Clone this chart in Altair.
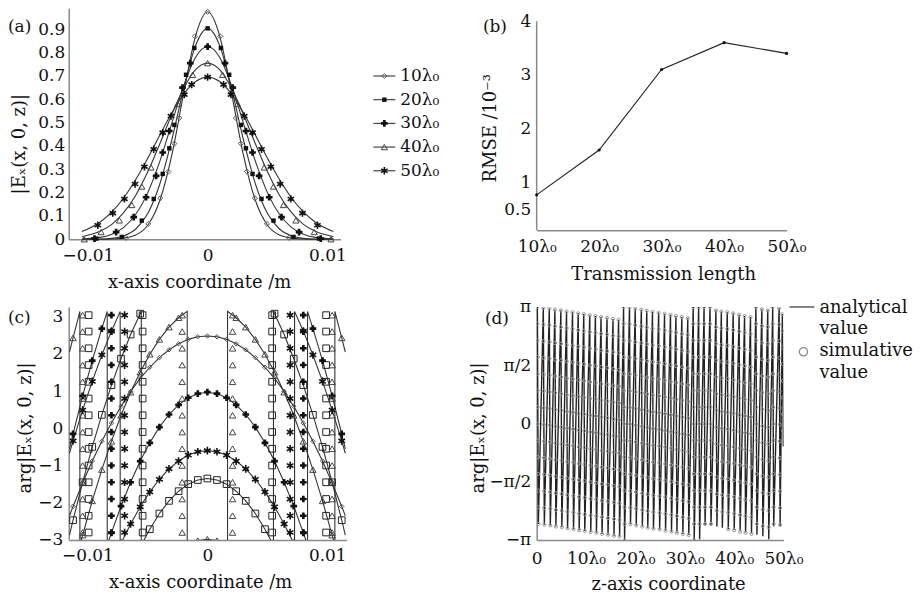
import math
import altair as alt
import pandas as pd

FONT = "DejaVu Serif"
PI = math.pi
LAM = "λ₀"
SERIES = ["10", "20", "30", "40", "50"]

# ---------------- (a) |Ex(x,0,z)| profiles (right half, picture is symmetric)
a_x = [0, 0.001, 0.002, 0.003, 0.004, 0.005, 0.006, 0.007, 0.008, 0.009, 0.0105]
a_10 = [0.975, 0.873, 0.625, 0.359, 0.165, 0.060, 0.018, 0.005, 0.001, 0.0, 0.0]
a_20 = [0.904, 0.831, 0.646, 0.425, 0.236, 0.110, 0.044, 0.015, 0.004, 0.001, 0.0]
a_30 = [0.826, 0.780, 0.658, 0.496, 0.333, 0.200, 0.107, 0.051, 0.022, 0.008, 0.002]
a_40 = [0.755, 0.727, 0.647, 0.534, 0.408, 0.289, 0.189, 0.115, 0.064, 0.034, 0.011]
a_50 = [0.695, 0.676, 0.622, 0.541, 0.446, 0.347, 0.256, 0.178, 0.117, 0.073, 0.033]
a_mx_10 = [0, 0.00106, 0.00236, 0.00278, 0.00328, 0.00395, 0.00495, 0.0068]
a_mv_10 = [0.975, 0.87, 0.52, 0.41, 0.29, 0.176, 0.066, 0.006]
a_mx_20 = [0, 0.00111, 0.0018, 0.00278, 0.0032, 0.00375, 0.0045, 0.0055, 0.00717, 0.0093]
a_mv_20 = [0.904, 0.82, 0.705, 0.49, 0.39, 0.28, 0.173, 0.08, 0.01, 0.003]
a_mx_30 = [0, 0.00145, 0.0021, 0.0032, 0.00375, 0.0043, 0.00514, 0.00617, 0.00764, 0.00945]
a_mv_30 = [0.826, 0.755, 0.65, 0.464, 0.372, 0.272, 0.18, 0.095, 0.031, 0.003]
a_mx_40 = [0, 0.00125, 0.0025, 0.00473, 0.0055, 0.00633, 0.00737, 0.0089, 0.0103]
a_mv_40 = [0.755, 0.705, 0.58, 0.308, 0.226, 0.147, 0.081, 0.031, 0.0]
a_mx_50 = [0, 0.00133, 0.00195, 0.00306, 0.00375, 0.0045, 0.00528, 0.00606, 0.00695, 0.00792, 0.00917]
a_mv_50 = [0.695, 0.663, 0.62, 0.528, 0.457, 0.386, 0.311, 0.237, 0.173, 0.112, 0.06]
a_ticks_y = [0, 0.1, 0.2, 0.3, 0.4, 0.5, 0.6, 0.7, 0.8, 0.9]

# ---------------- (b) RMSE
b_len = [10, 20, 30, 40, 50]
b_rmse = [0.765, 1.6, 3.1, 3.6, 3.4]
b_ticks_y = [0.5, 1, 2, 3, 4]

# ---------------- (c) wrapped phase (right half)
c_x = [0, 0.0008, 0.0016, 0.0024, 0.0032, 0.004, 0.0048, 0.0056, 0.0064, 0.0072,
       0.008, 0.0088, 0.0096, 0.0104, 0.0112, 0.0115]
c_10 = [2.48, 2.46, 2.39, 2.27, 2.11, 1.90, 1.64, 1.34, 0.99, 0.59, 0.14, -0.35, -0.88, -1.47, -2.10, -2.35]
c_20 = [-1.35, -1.39, -1.50, -1.69, -1.95, -2.29, -2.71, 3.08, 2.52, 1.87, 1.16, 0.36, -0.50, -1.45, -2.47, -2.87]
c_30 = [0.97, 0.93, 0.82, 0.63, 0.37, 0.03, -0.39, -0.88, -1.45, -2.09, -2.81, 2.68, 1.82, 0.87, -0.15, -0.55]
c_40 = [-2.98, -3.02, -3.13, 2.97, 2.72, 2.39, 1.99, 1.51, 0.97, 0.35, -0.35, -1.11, -1.95, -2.87, 2.43, 2.05]
c_50 = [-0.60, -0.63, -0.72, -0.88, -1.09, -1.37, -1.71, -2.11, -2.57, -3.09, 2.61, 1.97, 1.26, 0.49, -0.34, -0.67]
c_wrap_10 = []
c_wrap_20 = [0.00551]
c_wrap_30 = [0.00835]
c_wrap_40 = [0.00168, 0.01063]
c_wrap_50 = [0.00727]
c_col_x = [0.0021, 0.0054, 0.0069, 0.0080, 0.0099, 0.0104]
c_col_s = ["40", "20", "50", "30", "20", "40"]
c_col_levels = [3.04, 2.6, 2.15, 1.7, 1.25, 0.8, 0.35, -0.1, -0.55, -1.0, -1.45, -1.9, -2.35, -2.8]

# ---------------- (d) phase along z (teeth of the wrapped phase)
d_z = [0.14, 1.35, 2.56, 3.69, 4.9, 6.05, 7.26, 8.41, 9.54, 10.75, 11.9, 13.04, 14.25, 15.46, 16.59,
       17.6,
       18.8, 19.96, 21.2, 22.3, 23.45, 24.7, 25.9, 27.1, 28.2, 29.4, 30.6,
       31.7,
       32.8, 33.9, 35.1, 36.3, 37.4, 38.6, 39.8, 41.0, 42.1, 43.3,
       44.4, 45.6, 46.8,
       47.8, 49.1, 49.75]
d_top = [3.14, 3.12, 3.1, 3.07, 3.05, 3.02, 3.0, 2.97, 2.95, 2.92, 2.9, 2.87, 2.85, 2.82, 2.8,
         3.14,
         3.13, 3.1, 3.07, 3.04, 3.01, 2.99, 2.96, 2.93, 2.9, 2.87, 2.84,
         3.14,
         3.14, 3.14, 3.14, 3.05, 3.02, 3.0, 2.97, 2.93, 2.9, 2.87,
         3.14, 3.08, 3.05,
         3.14, 3.12, 2.95]
d_bot = [-2.71, -2.73, -2.75, -2.78, -2.8, -2.83, -2.85, -2.88, -2.9, -2.93, -2.95, -2.98, -3.0, -3.03, -3.05,
         -3.14,
         -2.72, -2.75, -2.78, -2.81, -2.84, -2.86, -2.89, -2.92, -2.95, -2.98, -3.01,
         -3.14,
         -3.12, -2.74, -2.76, -2.78, -2.81, -2.85, -2.87, -2.91, -2.94, -2.97,
         -3.0, -3.04, -3.12,
         -2.78, -2.78, -0.62]
d_dot_step = 0.45
D_FALL = 0.2  # width of each falling stroke, in lambda0

a_vals = {"10": a_10, "20": a_20, "30": a_30, "40": a_40, "50": a_50}
a_mx = {"10": a_mx_10, "20": a_mx_20, "30": a_mx_30, "40": a_mx_40, "50": a_mx_50}
a_mv = {"10": a_mv_10, "20": a_mv_20, "30": a_mv_30, "40": a_mv_40, "50": a_mv_50}
c_vals = {"10": c_10, "20": c_20, "30": c_30, "40": c_40, "50": c_50}
c_wraps = {"10": c_wrap_10, "20": c_wrap_20, "30": c_wrap_30, "40": c_wrap_40, "50": c_wrap_50}

STAR = "M0,-1L0,1M-0.866,-0.5L0.866,0.5M-0.866,0.5L0.866,-0.5"
A_STYLE = {
    "10": dict(shape="diamond", filled=False, size=26, color="#555", strokeWidth=1),
    "20": dict(shape="square", filled=True, size=20, color="#111"),
    "30": dict(shape="cross", filled=True, size=45, color="#111"),
    "40": dict(shape="triangle-up", filled=False, size=38, color="#444", strokeWidth=1),
    "50": dict(shape=STAR, filled=False, size=55, color="#111", strokeWidth=1.6),
}
C_STYLE = {
    "10": dict(shape="diamond", filled=False, size=20, color="#555", strokeWidth=1),
    "20": dict(shape="square", filled=False, size=45, color="#222", strokeWidth=1),
    "30": dict(shape="cross", filled=True, size=45, color="#111"),
    "40": dict(shape="triangle-up", filled=False, size=42, color="#444", strokeWidth=1),
    "50": dict(shape=STAR, filled=False, size=60, color="#111", strokeWidth=1.6),
}


def mirror(xs, ys):
    pts = list(zip(xs, ys))
    return [(-x, y) for x, y in reversed(pts) if x > 0] + pts


def one():
    return pd.DataFrame({"k": [0]})


def label(txt, x, y, size=17, align="left"):
    return alt.Chart(one()).mark_text(font=FONT, fontSize=size, align=align, baseline="middle",
                                      color="#111").encode(x=alt.value(x), y=alt.value(y), text=alt.value(txt))


# ================= panel (a)
sxA = alt.Scale(domain=[-0.0116, 0.0111], nice=False, zero=False)
syA = alt.Scale(domain=[0, 0.99], nice=False, zero=False)
X_LAB = "datum.value == 0 ? '0' : (datum.value < 0 ? '−0.01' : '0.01')"
axA_x = alt.Axis(values=[-0.01, 0, 0.01], labelExpr=X_LAB, title="x-axis coordinate /m",
                 titleX=131, titleY=43, titleBaseline="middle", labelPadding=8)
axA_y = alt.Axis(values=a_ticks_y, format=".1~f", title="|Eₓ(x, 0, z)|",
                 titleX=-49, titleY=136, titleBaseline="middle", labelPadding=4)
encA = dict(x=alt.X("x:Q", scale=sxA, axis=axA_x), y=alt.Y("v:Q", scale=syA, axis=axA_y))

layersA = []
for s in SERIES:
    df = pd.DataFrame(mirror(a_x, a_vals[s]), columns=["x", "v"])
    layersA.append(alt.Chart(df).mark_line(color="#333", strokeWidth=1.1, interpolate="monotone").encode(**encA))
for s in SERIES:
    df = pd.DataFrame(mirror(a_mx[s], a_mv[s]), columns=["x", "v"])
    layersA.append(alt.Chart(df).mark_point(opacity=1, **A_STYLE[s]).encode(**encA))
for i, s in enumerate(SERIES):
    yy = 68 + 23.8 * i
    layersA.append(alt.Chart(one()).mark_rule(color="#333", strokeWidth=1.1).encode(
        x=alt.value(306), x2=alt.value(328), y=alt.value(yy)))
    layersA.append(alt.Chart(one()).mark_point(opacity=1, **A_STYLE[s]).encode(
        x=alt.value(317), y=alt.value(yy)))
    layersA.append(label(s + LAM, 333, yy))
layersA.append(label("(a)", -61, 19))
panelA = alt.layer(*layersA).properties(width=273, height=232)

# ================= panel (b)  (plot area starts at the row top; axis line drawn from 0.104 to 4)
sxB = alt.Scale(domain=[10, 50], nice=False, zero=False)
syB = alt.Scale(domain=[0.104, 4.24], nice=False, zero=False)
axB_x = alt.Axis(values=b_len, labelExpr="datum.value + 'λ₀'", title="Transmission length",
                 titleX=127, titleY=44, titleBaseline="middle", labelPadding=8)
axB_y = alt.Axis(values=b_ticks_y, format="~g", title="RMSE /10⁻³", domain=False,
                 titleX=-46, titleY=120, titleBaseline="middle", labelPadding=6)
encB = dict(x=alt.X("len:Q", scale=sxB, axis=axB_x), y=alt.Y("rmse:Q", scale=syB, axis=axB_y))
dfB = pd.DataFrame({"len": b_len, "rmse": b_rmse})
panelB = alt.layer(
    alt.Chart(one()).mark_rule(color="#888", strokeWidth=1.5).encode(
        x=alt.value(0), y=alt.datum(0.104), y2=alt.datum(4)),
    alt.Chart(dfB).mark_line(color="#222", strokeWidth=1.1).encode(**encB),
    alt.Chart(dfB).mark_point(filled=True, size=10, color="#111", opacity=1).encode(**encB),
    label("(b)", -54, 19),
).properties(width=251, height=223)

# ================= panel (c)
sxC = alt.Scale(domain=[-0.01156, 0.0116], nice=False, zero=False)
syC = alt.Scale(domain=[-3, 3.26], nice=False, zero=False)
axC_x = alt.Axis(values=[-0.01, 0, 0.01], labelExpr=X_LAB, title="x-axis coordinate /m",
                 titleX=132, titleY=43, titleBaseline="middle", labelPadding=8)
axC_y = alt.Axis(values=[-3, -2, -1, 0, 1, 2, 3], format="d", title="arg|Eₓ(x, 0, z)|",
                 titleX=-43, titleY=121, titleBaseline="middle", labelPadding=6)
encC = dict(x=alt.X("x:Q", scale=sxC, axis=axC_x), y=alt.Y("y:Q", scale=syC, axis=axC_y))


def c_poly(ys, wraps):
    pts = [(x, y, 0) for x, y in zip(c_x, ys)]
    for w in wraps:
        pts += [(w, -PI, 1), (w, PI, 2)]
    pts.sort(key=lambda p: (p[0], p[2]))
    right = [(p[0], p[1]) for p in pts]
    full = [(-x, y) for x, y in reversed(right) if x > 0] + right
    return pd.DataFrame({"x": [p[0] for p in full], "y": [p[1] for p in full], "i": list(range(len(full)))})


layersC = []
for s in SERIES:
    layersC.append(alt.Chart(c_poly(c_vals[s], c_wraps[s])).mark_line(
        color="#333", strokeWidth=1.1, clip=True).encode(order="i:Q", **encC))
for s in SERIES:
    pts = mirror(c_x[:-1], c_vals[s][:-1])
    for cx, cs in zip(c_col_x, c_col_s):
        if cs == s:
            for lv in c_col_levels:
                pts += [(cx, lv), (-cx, lv)]
    df = pd.DataFrame(pts, columns=["x", "y"])
    layersC.append(alt.Chart(df).mark_point(opacity=1, clip=True, **C_STYLE[s]).encode(**encC))
layersC.append(label("(c)", -61, 11))
panelC = alt.layer(*layersC).properties(width=279, height=234)

# ================= panel (d)
sxD = alt.Scale(domain=[0, 50], nice=False, zero=False)
syD = alt.Scale(domain=[-PI, PI], nice=False, zero=False)
axD_x = alt.Axis(values=[0, 10, 20, 30, 40, 50], labelExpr="datum.value == 0 ? '0' : datum.value + 'λ₀'",
                 title="z-axis coordinate", titleX=132, titleY=45, titleBaseline="middle", labelPadding=11)
axD_y = alt.Axis(values=[-PI, -PI / 2, 0, PI / 2, PI],
                 labelExpr="datum.value > 3 ? 'π' : datum.value > 1 ? 'π/2' : datum.value > -1 ? '0' : datum.value > -3 ? '−π/2' : '−π'",
                 title="arg|Eₓ(x, 0, z)|", titleX=-58, titleY=121, titleBaseline="middle", labelPadding=6)
encD = dict(x=alt.X("z:Q", scale=sxD, axis=axD_x), y=alt.Y("p:Q", scale=syD, axis=axD_y))

line_rows, dot_rows = [], []
for i, (z, t, b) in enumerate(zip(d_z, d_top, d_bot)):
    line_rows.append((z, t, 2 * i))
    line_rows.append((z + D_FALL, b, 2 * i + 1))
    k = 0
    while t - k * d_dot_step >= b - 0.02:
        lv = t - k * d_dot_step
        dot_rows.append((z + D_FALL * (t - lv) / (t - b), lv))
        k += 1
dfDl = pd.DataFrame(line_rows, columns=["z", "p", "i"])
dfDd = pd.DataFrame(dot_rows, columns=["z", "p"])
panelD = alt.layer(
    alt.Chart(dfDl).mark_line(color="#222", strokeWidth=1.4, clip=True).encode(order="i:Q", **encD),
    alt.Chart(dfDd).mark_point(shape="circle", filled=False, size=10, color="#999", strokeWidth=1,
                               opacity=1, clip=True).encode(**encD),
    alt.Chart(one()).mark_rule(color="#444", strokeWidth=1.3).encode(
        x=alt.value(254), x2=alt.value(279), y=alt.value(0)),
    alt.Chart(one()).mark_point(shape="circle", filled=False, size=70, color="#888", strokeWidth=1.2,
                                opacity=1).encode(x=alt.value(268), y=alt.value(45)),
    label("analytical", 284, 1, size=18),
    label("value", 284, 22, size=18),
    label("simulative", 284, 44, size=18),
    label("value", 284, 66, size=18),
    label("(d)", -52, 12),
).properties(width=248, height=234)

chart = alt.concat(panelA, panelB, panelC, panelD, columns=2,
                   spacing={"row": 68, "column": 191}, bounds="flush").properties(
    padding={"left": 0, "top": -3, "right": 0, "bottom": 0}
).configure_view(strokeWidth=0).configure_axis(
    grid=False, ticks=False, domainColor="#888", domainWidth=1.5,
    labelFont=FONT, titleFont=FONT, labelFontSize=17, titleFontSize=18,
    titleFontWeight="normal", labelColor="#111", titleColor="#111", labelFlush=False,
)

chart.save("out.html", embed_options={"renderer": "svg", "actions": False})
